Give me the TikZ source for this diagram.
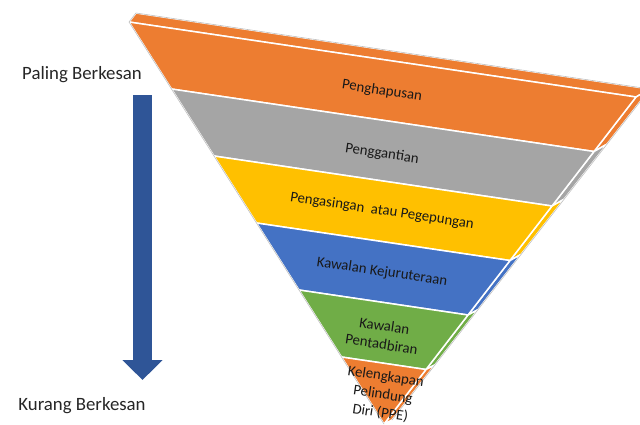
\documentclass[tikz,border=0pt]{standalone}
\usepackage{fontspec}
\setmainfont{Carlito}
\usetikzlibrary{calc,arrows.meta}
\definecolor{bandorange}{HTML}{ED7D31}
\definecolor{bandgray}{HTML}{A5A5A5}
\definecolor{bandyellow}{HTML}{FFC000}
\definecolor{bandblue}{HTML}{4472C4}
\definecolor{bandgreen}{HTML}{70AD47}
\definecolor{arrowblue}{HTML}{2F5597}
\tikzstyle{band}=[
	draw=white,
	line width=1.5pt,
	line join=round
]
\tikzstyle{outline}=[
	draw=black!25,
	line width=0.6pt
]
\tikzstyle{bandlabel}=[
	rotate=-8.5,
	text=black!90,
	align=center,
	inner sep=1pt,
	font=\fontsize{14.8}{18.5}\selectfont
]
\tikzstyle{sidelabel}=[
	text=black!85,
	font=\fontsize{18.8}{22}\selectfont
]
\tikzstyle{rankarrow}=[
	-{Triangle[width=39pt,length=20pt]},
	line width=19pt,
	draw=arrowblue
]

\begin{document}
\begin{tikzpicture}[x=1pt,y=-1pt]
\useasboundingbox (0,0) rectangle (640,424);
\clip (0,0) rectangle (640,424);
% corners of the funnel
\coordinate (TopLeft) at (129,22);
\coordinate (TopRight) at (636,97);
\coordinate (Apex) at (384,424);
\coordinate (BackLeft) at (136,13);
\coordinate (BackRight) at (650,89);
\coordinate (BackApex) at (392,420);
% top face
\filldraw[band, fill=bandorange] (TopLeft) -- (BackLeft) -- (BackRight) -- (TopRight) -- cycle;
% side and front faces, one band at a time
\foreach \i/\j/\col in {0/1/bandorange,1/2/bandgray,2/3/bandyellow,3/4/bandblue,4/5/bandgreen,5/6/bandorange}{
	\filldraw[band, fill=\col] ($(TopRight)!\i/6!(Apex)$) -- ($(BackRight)!\i/6!(BackApex)$)
		-- ($(BackRight)!\j/6!(BackApex)$) -- ($(TopRight)!\j/6!(Apex)$) -- cycle;
	\filldraw[band, fill=\col] ($(TopLeft)!\i/6!(Apex)$) -- ($(TopRight)!\i/6!(Apex)$)
		-- ($(TopRight)!\j/6!(Apex)$) -- ($(TopLeft)!\j/6!(Apex)$) -- cycle;
}
\draw[outline] (BackApex) -- (BackRight) -- (BackLeft) -- (TopLeft) -- (Apex);

\node[bandlabel] (Penghapusan) at (382,91) {Penghapusan};
\node[bandlabel] (Penggantian) at (382,154) {Penggantian};
\node[bandlabel] (Pengasingan) at (382,211) {Pengasingan~ atau Pegepungan};
\node[bandlabel] (Kejuruteraan) at (382,272) {Kawalan Kejuruteraan};
\node[bandlabel] (Pentadbiran) at (383,335) {Kawalan\\Pentadbiran};
\node[bandlabel] (PPE) at (383,395) {Kelengkapan\\Pelindung\\Diri (PPE)};

% effectiveness scale
\node[sidelabel] (Paling) at (82,75) {Paling Berkesan};
\node[sidelabel] (Kurang) at (82,406) {Kurang Berkesan};
\coordinate (ArrowTop) at (142.5,95);
\coordinate (ArrowTip) at (142.5,380);
\draw[rankarrow] (ArrowTop) -- (ArrowTip);
\end{tikzpicture}
\end{document}
